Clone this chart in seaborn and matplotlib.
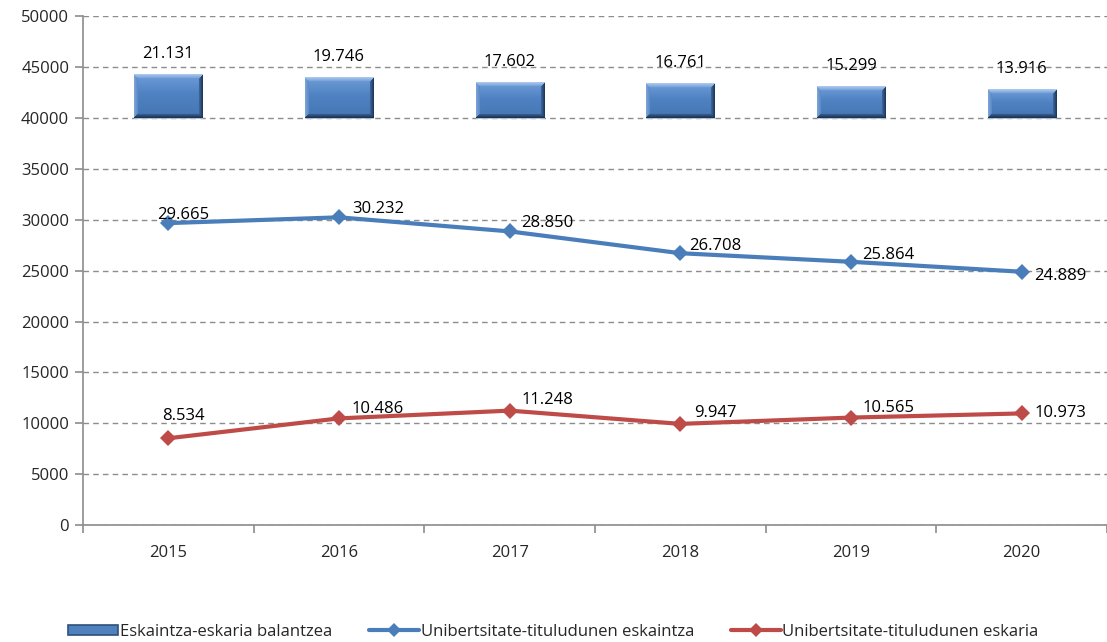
import numpy as np
import pandas as pd
import matplotlib
matplotlib.use("Agg")
import matplotlib.pyplot as plt
import seaborn as sns
from matplotlib.patches import Rectangle
from matplotlib.lines import Line2D
from matplotlib.legend_handler import HandlerPatch

years = ["2015", "2016", "2017", "2018", "2019", "2020"]
balance = [21131, 19746, 17602, 16761, 15299, 13916]
supply = [29665, 30232, 28850, 26708, 25864, 24889]
demand = [8534, 10486, 11248, 9947, 10565, 10973]

bar_label = "Eskaintza-eskaria balantzea"
supply_label = "Unibertsitate-tituludunen eskaintza"
demand_label = "Unibertsitate-tituludunen eskaria"

BLUE = "#4A7EBB"
RED = "#BE4B48"
BAR = "#4F81BD"
GRID = "#8C8C8C"

sns.set_theme(style="white")
plt.rcParams["font.family"] = ["Open Sans", "DejaVu Sans"]

fig = plt.figure(figsize=(11.07, 6.42), dpi=100)
ax = fig.add_axes([0.075, 0.182, 0.925, 0.793])

df = pd.DataFrame({"year": years, "balance": balance,
                   "supply": supply, "demand": demand})
x = np.arange(len(years))

# Gridlines and axes
ax.set_ylim(0, 50000)
ax.set_xlim(-0.5, len(years) - 0.5)
ax.set_yticks(np.arange(0, 50001, 5000))
ax.yaxis.grid(True, linestyle=(0, (4, 3)), color=GRID, linewidth=1.0)
ax.set_axisbelow(True)
for s in ["top", "right"]:
    ax.spines[s].set_visible(False)
for s in ["left", "bottom"]:
    ax.spines[s].set_color(GRID)
    ax.spines[s].set_linewidth(1.2)

# Balance bars sit on a hidden secondary scale
ax2 = ax.twinx()
ax2.set_ylim(-200000, 50000)
ax2.set_axis_off()
sns.barplot(data=df, x="year", y="balance", ax=ax2, color=BAR, width=0.4,
            saturation=1, edgecolor="#B8C4D4", linewidth=0.6)
ax2.set_xlim(-0.5, len(years) - 0.5)

sns.lineplot(x=x, y=supply, ax=ax, color=BLUE, linewidth=3, marker="D",
             markersize=8, markeredgewidth=0, zorder=5)
sns.lineplot(x=x, y=demand, ax=ax, color=RED, linewidth=3, marker="D",
             markersize=8, markeredgewidth=0, zorder=5)

ax.set_xticks(x)
ax.set_xticklabels(years)
ax.set_xticks(np.arange(-0.5, len(years), 1.0), minor=True)
ax.tick_params(axis="x", which="major", length=0, pad=14, labelsize=12)
ax.tick_params(axis="x", which="minor", length=6, width=1.2, color=GRID,
               direction="out", bottom=True)
ax.tick_params(axis="y", length=6, width=1.2, color=GRID, direction="out",
               left=True, labelsize=12, pad=4)
ax.set_xlabel("")
ax.set_ylabel("")


def fmt(v):
    return f"{v:,}".replace(",", ".")


fig.canvas.draw()


def hexrgb(h):
    return np.array([int(h[i:i + 2], 16) for i in (1, 3, 5)]) / 255.0


# Bevelled shading for the balance bars
def bevel_image(w, h, b=4):
    img = np.zeros((h, w, 3))
    c_top, c_mid, c_bot = hexrgb("#6E9DD8"), hexrgb("#4F82C2"), hexrgb("#4676B3")
    for r in range(h):
        t = r / max(h - 1, 1)
        if t < 0.45:
            col = c_top + (c_mid - c_top) * (t / 0.45)
        else:
            col = c_mid + (c_bot - c_mid) * ((t - 0.45) / 0.55)
        img[r, :, :] = col
    edge = {
        "top": (hexrgb("#A9C6EC"), hexrgb("#7DA7DC")),
        "left": (hexrgb("#7AA2D6"), hexrgb("#5D8CC8")),
        "right": (hexrgb("#1F3A5E"), hexrgb("#3C6398")),
        "bottom": (hexrgb("#1C3454"), hexrgb("#355B8E")),
    }
    for r in range(h):
        for c in range(w):
            d = {"top": r, "bottom": h - 1 - r, "left": c, "right": w - 1 - c}
            k = min(d, key=d.get)
            if d[k] < b:
                outer, inner = edge[k]
                f = d[k] / max(b - 1, 1)
                img[r, c, :] = outer + (inner - outer) * f
    return np.clip(img, 0, 1)


for p in list(ax2.patches):
    bb = p.get_window_extent()
    w = max(int(round(bb.width)), 4)
    h = max(int(round(bb.height)), 4)
    x0, y0 = p.get_x(), p.get_y()
    ax2.imshow(bevel_image(w, h), extent=[x0, x0 + p.get_width(), y0,
               y0 + p.get_height()], aspect="auto", zorder=3,
               interpolation="bilinear")
    cx = x0 + p.get_width() / 2
    ax2.annotate(fmt(int(round(p.get_height()))), (cx, y0 + p.get_height()),
                 xytext=(0, 9), textcoords="offset points", ha="center",
                 va="bottom", fontsize=12, color="black")
ax2.set_ylim(-200000, 50000)
ax2.set_xlim(-0.5, len(years) - 0.5)

# Line value labels
sup_off = [(11, 6), (28, 6), (27, 6), (25, 5), (27, 5), (28, -3)]
dem_off = [(11, 16), (28, 7), (27, 8), (25, 8), (27, 7), (28, 0)]
for i, v in enumerate(supply):
    ax.annotate(fmt(v), (x[i], v), xytext=sup_off[i],
                textcoords="offset points", ha="center", va="center",
                fontsize=12, color="black", zorder=6)
for i, v in enumerate(demand):
    ax.annotate(fmt(v), (x[i], v), xytext=dem_off[i],
                textcoords="offset points", ha="center", va="center",
                fontsize=12, color="black", zorder=6)

# Legend
bar_handle = Rectangle((0, 0), 1, 1, facecolor=BAR, edgecolor="#2E507C",
                       linewidth=1.2)
sup_handle = Line2D([], [], color=BLUE, linewidth=3, marker="D",
                    markersize=7, markeredgewidth=0)
dem_handle = Line2D([], [], color=RED, linewidth=3, marker="D",
                    markersize=7, markeredgewidth=0)


class BarHandler(HandlerPatch):
    def create_artists(self, legend, orig_handle, xdescent, ydescent,
                       width, height, fontsize, trans):
        r = Rectangle((-xdescent, -ydescent + height * 0.1), width,
                      height * 0.8, facecolor=BAR, edgecolor="#2E507C",
                      linewidth=1.2, transform=trans)
        return [r]


fig.legend([bar_handle, sup_handle, dem_handle],
           [bar_label, supply_label, demand_label],
           loc="center", bbox_to_anchor=(0.5, 0.016), ncol=3, frameon=False,
           fontsize=12, handlelength=3.0, handletextpad=0.1,
           columnspacing=2.2, handler_map={Rectangle: BarHandler()})

fig.savefig("out.png", dpi=100)
